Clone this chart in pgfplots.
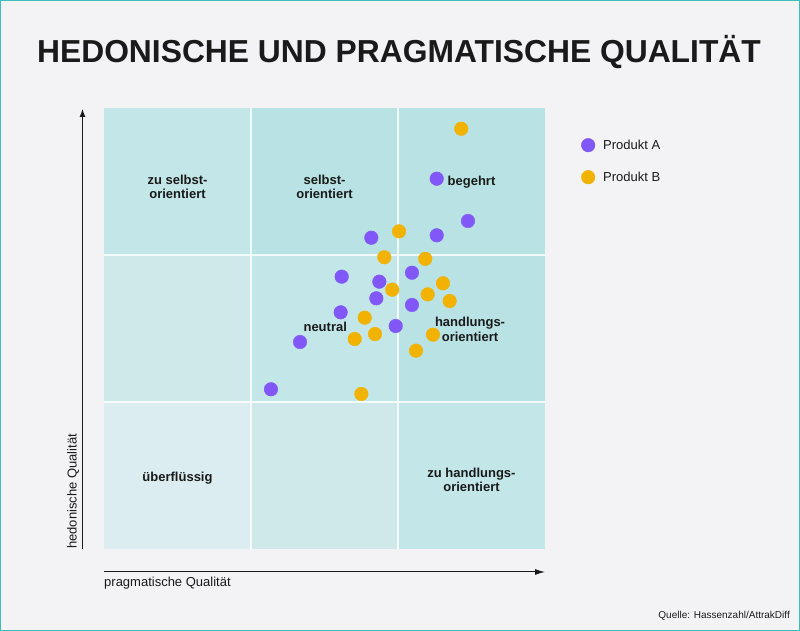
\documentclass[border=0pt]{standalone}
\usepackage{pgfplots}
\pgfplotsset{compat=1.18}
\usetikzlibrary{arrows.meta}
\usepackage{fontspec}
\setmainfont{Liberation Sans}
\definecolor{bg}{HTML}{F3F3F6}
\definecolor{frame}{HTML}{3CBFBF}
\definecolor{cA}{HTML}{DBEDF0}
\definecolor{cB}{HTML}{CFE9EB}
\definecolor{cC}{HTML}{C3E6E8}
\definecolor{cD}{HTML}{B8E2E3}
\definecolor{pA}{HTML}{8157F8}
\definecolor{pB}{HTML}{F2B200}
\definecolor{txt}{HTML}{1A1A1A}
\begin{document}
\begin{tikzpicture}[x=1pt,y=1pt]
\fill[bg] (0,0) rectangle (800,631);
\draw[frame,line width=1.2pt] (0.6,0.6) rectangle (799.4,630.4);
\node[font=\fontsize{31.8}{36}\selectfont\bfseries, text=txt, anchor=base, inner sep=0pt] at (399,568) {HEDONISCHE UND PRAGMATISCHE QUALITÄT};
\begin{axis}[
  at={(104pt,82pt)}, anchor=south west,
  width=441pt, height=441pt, scale only axis,
  xmin=-3, xmax=3, ymin=-3, ymax=3,
  hide axis, clip=false,
  legend style={at={(1.0816,0.932)}, anchor=north west, draw=none, fill=none,
    font=\fontsize{13}{15}\selectfont, text=txt, inner sep=0pt, row sep=18pt,
    nodes={inner sep=0pt, anchor=west}},
  legend cell align=left,
  legend image code/.code={\draw[#1] plot coordinates {(7pt,0pt)}; \path[draw=none,fill=none] (0pt,-7pt) -- (22pt,7pt);},
]
\fill[cC] (axis cs:-3,1) rectangle (axis cs:-1,3);
\fill[cD] (axis cs:-1,1) rectangle (axis cs:1,3);
\fill[cD] (axis cs:1,1) rectangle (axis cs:3,3);
\fill[cB] (axis cs:-3,-1) rectangle (axis cs:-1,1);
\fill[cC] (axis cs:-1,-1) rectangle (axis cs:1,1);
\fill[cD] (axis cs:1,-1) rectangle (axis cs:3,1);
\fill[cA] (axis cs:-3,-3) rectangle (axis cs:-1,-1);
\fill[cB] (axis cs:-1,-3) rectangle (axis cs:1,-1);
\fill[cC] (axis cs:1,-3) rectangle (axis cs:3,-1);
\draw[white, line width=1.3pt, opacity=0.8] (axis cs:-1,-3) -- (axis cs:-1,3);
\draw[white, line width=1.3pt, opacity=0.8] (axis cs:1,-3) -- (axis cs:1,3);
\draw[white, line width=1.3pt, opacity=0.8] (axis cs:-3,-1) -- (axis cs:3,-1);
\draw[white, line width=1.3pt, opacity=0.8] (axis cs:-3,1) -- (axis cs:3,1);
\begin{scope}[every node/.style={font=\fontsize{13}{14.5}\selectfont\bfseries, text=txt, align=center, inner sep=0pt}]
\node at (axis cs:-2,1.93) {zu selbst-\\orientiert};
\node at (axis cs:0,1.93) {selbst-\\orientiert};
\node at (axis cs:2,1.99) {begehrt};
\node at (axis cs:0.01,0.02) {neutral};
\node at (axis cs:1.98,-0.01) {handlungs-\\orientiert};
\node at (axis cs:-2,-2.03) {überflüssig};
\node at (axis cs:2,-2.06) {zu handlungs-\\orientiert};
\end{scope}
\addplot[only marks, mark=*, mark size=6.8pt, mark options={fill=pA, draw=pA}] coordinates {
(1.527,2.038) (1.952,1.463) (1.527,1.268) (0.637,1.235) (1.190,0.759)
(0.234,0.705) (0.746,0.637) (0.705,0.411) (1.190,0.320) (0.220,0.220)
(0.969,0.034) (-0.333,-0.184) (-0.728,-0.827)
};
\addlegendentry{Produkt A}
\addplot[only marks, mark=*, mark size=6.8pt, mark options={fill=pB, draw=pB}] coordinates {
(1.861,2.718) (1.014,1.322) (0.814,0.969) (1.371,0.948) (1.612,0.615)
(0.922,0.528) (1.404,0.465) (1.703,0.374) (0.547,0.147) (0.687,-0.075)
(0.411,-0.143) (1.476,-0.084) (1.245,-0.302) (0.501,-0.891)
};
\addlegendentry{Produkt B}
\end{axis}
\draw[txt, line width=1pt, -{Latex[length=8pt,width=6pt]}] (82.5,82) -- (82.5,522);
\draw[txt, line width=1pt, -{Latex[length=10pt,width=6pt]}] (104,59) -- (545,59);
\node[font=\fontsize{13}{15}\selectfont, text=txt, anchor=base west, inner sep=0pt] at (104,44) {pragmatische Qualität};
\node[font=\fontsize{13}{15}\selectfont, text=txt, anchor=base west, inner sep=0pt, rotate=90] at (76.5,82) {hedonische Qualität};
\node[font=\fontsize{10}{12}\selectfont, text=txt, anchor=base east, inner sep=0pt] at (790,12) {Quelle: Hassenzahl/AttrakDiff};
\end{tikzpicture}
\end{document}
